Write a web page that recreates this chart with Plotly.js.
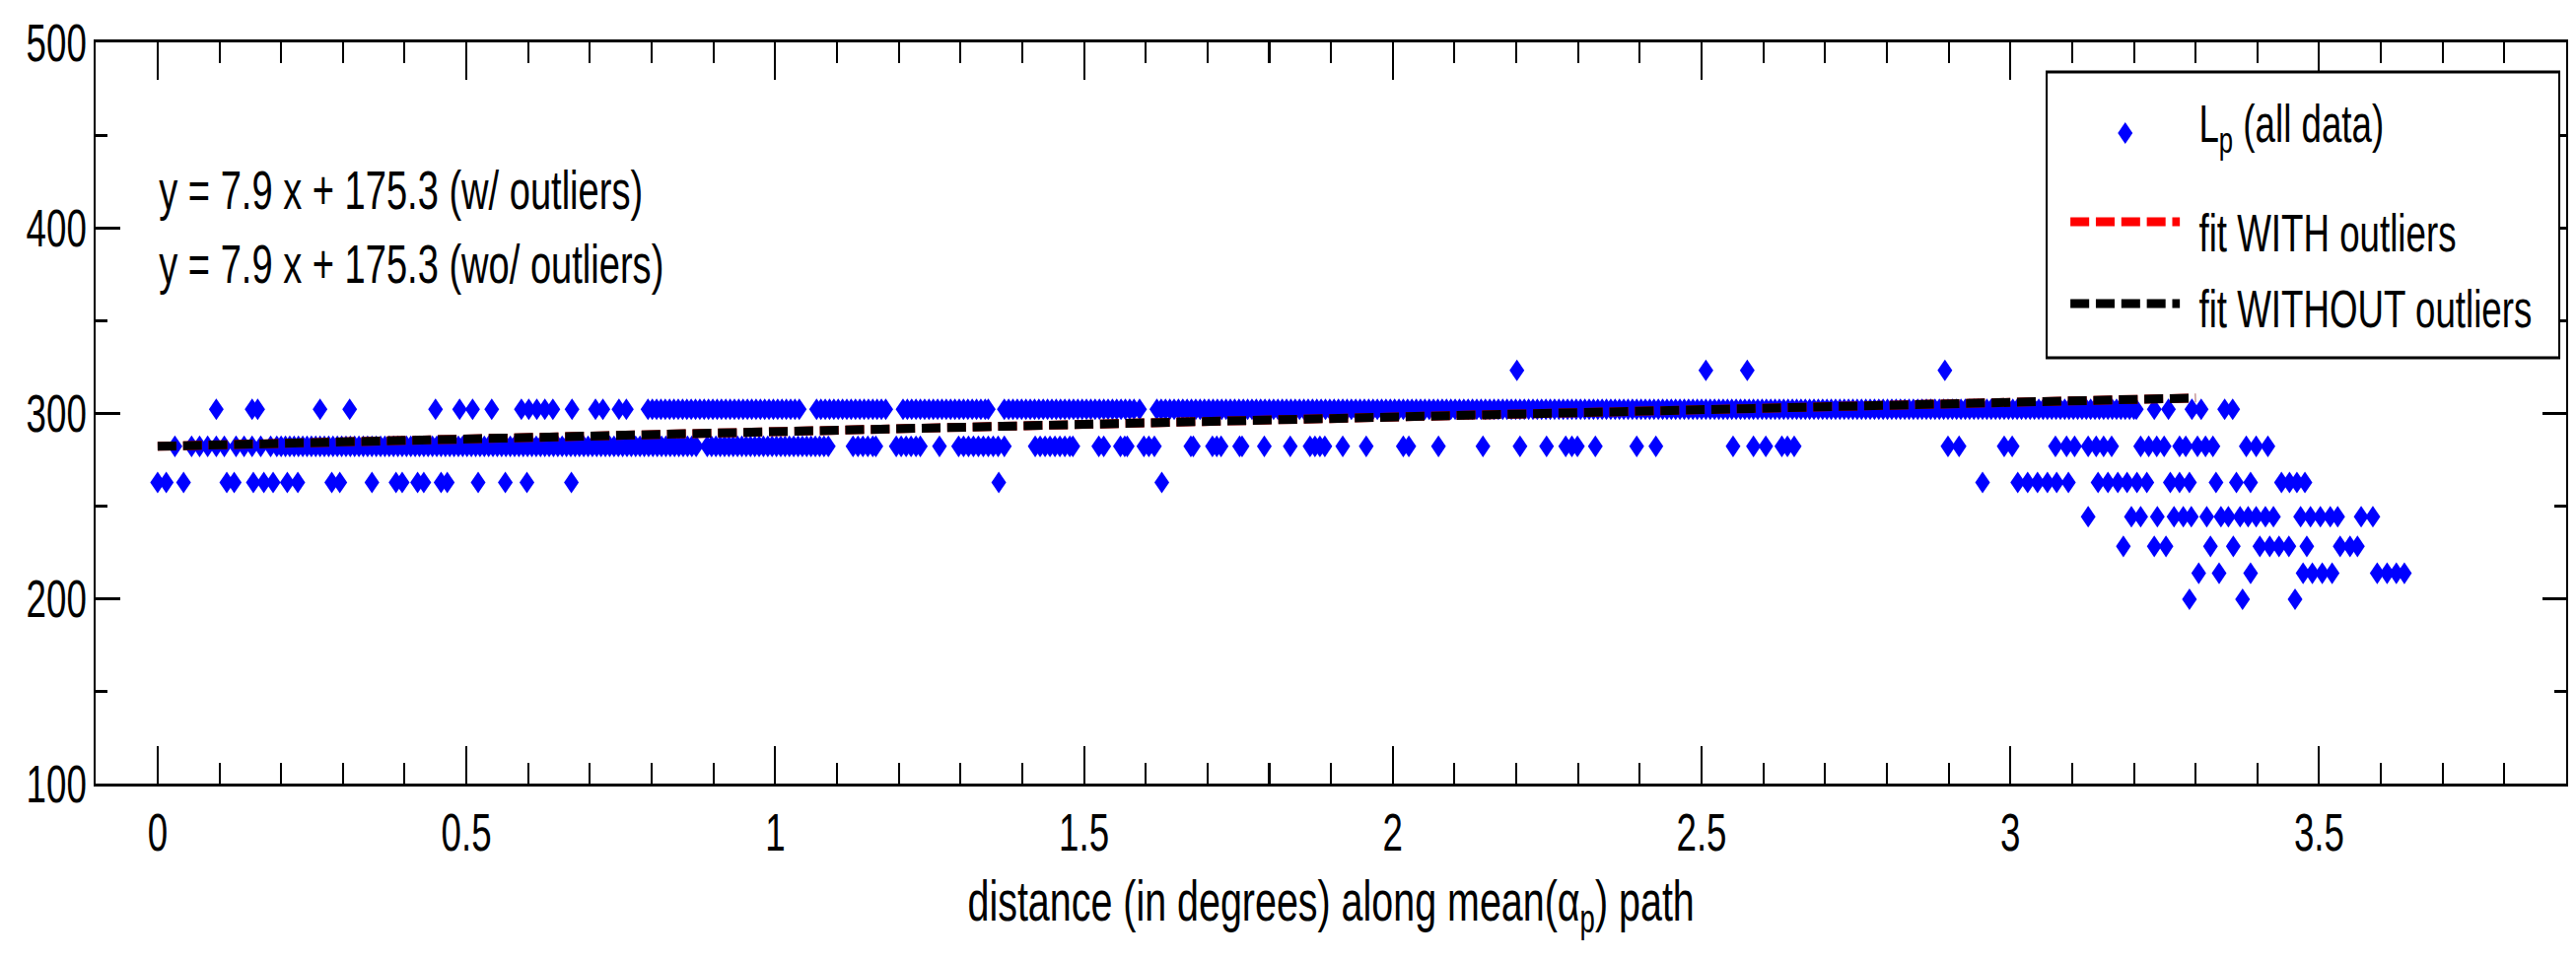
<!DOCTYPE html>
<html>
<head>
<meta charset="utf-8">
<script src="https://cdn.plot.ly/plotly-3.0.1.min.js"></script>
<style>
  html, body { margin: 0; padding: 0; background: #ffffff; overflow: hidden; }
  #frame { position: relative; width: 2613px; height: 974px; overflow: hidden; background: #ffffff; }
  #chart { position: absolute; left: 0; top: 0; transform-origin: 0 0; }
</style>
</head>
<body>
<div id="frame"><div id="chart"></div></div>
<script>
// ---------------- data ----------------
// L_p values come in discrete levels; x positions listed per level.
const level323 = 323;
const level302 = 302;
const level282 = 282;
const level262 = 262.5;
const level244 = 244;
const level228 = 228;
const level213 = 213.5;
const level200 = 199.5;

const x323 = [2.201, 2.507, 2.574, 2.894];

const x302 = [0.095, 0.153, 0.162, 0.263, 0.311, 0.450, 0.489, 0.510, 0.541, 0.589, 0.601, 0.614, 0.627, 0.640,
  0.671, 0.709, 0.721, 0.747, 0.759,
  0.794, 0.801, 0.808, 0.815, 0.822, 0.829, 0.836, 0.843, 0.850, 0.857, 0.864, 0.871, 0.878, 0.885, 0.892,
  0.899, 0.906, 0.913, 0.920, 0.927, 0.934, 0.941, 0.948, 0.955, 0.962, 0.969, 0.976, 0.983, 0.990, 0.997,
  1.004, 1.011, 1.018, 1.025, 1.032, 1.039,
  1.067, 1.074, 1.081, 1.088, 1.095, 1.102, 1.109, 1.116, 1.123, 1.130, 1.137, 1.144, 1.151, 1.158, 1.165,
  1.172, 1.179,
  1.207, 1.214, 1.221, 1.228, 1.235, 1.242, 1.249, 1.256, 1.263, 1.270, 1.277, 1.284, 1.291, 1.298, 1.305,
  1.312, 1.319, 1.326, 1.333, 1.340, 1.345,
  1.371, 1.378, 1.385, 1.392, 1.399, 1.406, 1.413, 1.420, 1.427, 1.434, 1.441, 1.448, 1.455, 1.462, 1.469,
  1.476, 1.483, 1.490, 1.497, 1.504, 1.511, 1.518, 1.525, 1.532, 1.539, 1.546, 1.553, 1.560, 1.567, 1.574,
  1.581, 1.590,
  1.618, 1.625, 1.632, 1.639, 1.646, 1.653, 1.660, 1.667, 1.674, 1.681, 1.688, 1.695, 1.702, 1.709, 1.716,
  1.723, 1.730, 1.737, 1.744, 1.751, 1.758, 1.765, 1.772, 1.779, 1.786, 1.793, 1.800, 1.807, 1.814, 1.821,
  1.828, 1.835, 1.842, 1.849, 1.856, 1.863, 1.870, 1.877, 1.884, 1.891, 1.898, 1.905, 1.912, 1.919, 1.926,
  1.933, 1.940, 1.947, 1.954, 1.961, 1.968, 1.975, 1.982, 1.989, 1.996, 2.003, 2.010, 2.017, 2.024, 2.031,
  2.038, 2.045, 2.052, 2.059, 2.066, 2.073, 2.080, 2.087, 2.094, 2.101, 2.108, 2.115, 2.122, 2.129, 2.136,
  2.143, 2.150, 2.157, 2.164, 2.171, 2.178, 2.185, 2.192, 2.199, 2.206, 2.213, 2.220, 2.227, 2.234, 2.241,
  2.248, 2.255, 2.262, 2.269, 2.276, 2.283, 2.290, 2.297, 2.304, 2.311, 2.318, 2.325, 2.332, 2.339, 2.346,
  2.353, 2.360, 2.367, 2.374, 2.381, 2.388, 2.395, 2.402, 2.409, 2.416, 2.423, 2.430, 2.437, 2.444, 2.451,
  2.458, 2.465, 2.472, 2.479, 2.486, 2.493, 2.500, 2.507, 2.514, 2.521, 2.528, 2.535, 2.542, 2.549, 2.556,
  2.563, 2.570, 2.577, 2.584, 2.591, 2.598, 2.605, 2.612, 2.619, 2.626, 2.633, 2.640, 2.647, 2.654, 2.661,
  2.668, 2.675, 2.682, 2.689, 2.696, 2.703, 2.710, 2.717, 2.724, 2.731, 2.738, 2.745, 2.752, 2.759, 2.766,
  2.773, 2.780, 2.787, 2.794, 2.801, 2.808, 2.815, 2.822, 2.829, 2.836, 2.843, 2.850, 2.857, 2.864, 2.871,
  2.878, 2.885, 2.892, 2.899, 2.906, 2.913, 2.920, 2.927, 2.934, 2.941, 2.948, 2.955, 2.962, 2.969, 2.976,
  2.983, 2.990, 2.997, 3.004, 3.011, 3.018, 3.025, 3.032, 3.039, 3.046, 3.053, 3.060, 3.067, 3.074, 3.081,
  3.088, 3.095, 3.102, 3.109, 3.116, 3.123, 3.130, 3.137, 3.144, 3.151, 3.158, 3.165, 3.172, 3.179, 3.186,
  3.193, 3.200, 3.204,
  3.233, 3.256, 3.294, 3.309, 3.347, 3.360];

const x282 = [0.028, 0.055, 0.068, 0.081, 0.095, 0.108, 0.127, 0.140, 0.153, 0.167, 0.183,
  0.193, 0.200, 0.207, 0.214, 0.221, 0.228, 0.235, 0.242, 0.249, 0.256, 0.263, 0.270, 0.277, 0.284, 0.291,
  0.298, 0.305, 0.312, 0.319, 0.326, 0.333, 0.340, 0.347, 0.354, 0.361, 0.368, 0.375, 0.382, 0.389, 0.396,
  0.403, 0.410, 0.417, 0.424, 0.431, 0.438, 0.445, 0.452, 0.459, 0.466, 0.473, 0.480, 0.487, 0.494, 0.501,
  0.508, 0.515, 0.522, 0.529, 0.536, 0.543, 0.550, 0.557, 0.564, 0.571, 0.578, 0.585, 0.592, 0.599, 0.606,
  0.613, 0.620, 0.627, 0.634, 0.641, 0.648, 0.655, 0.662, 0.669, 0.676, 0.683, 0.690, 0.697, 0.704, 0.711,
  0.718, 0.725, 0.732, 0.739, 0.746, 0.753, 0.760, 0.767, 0.774, 0.781, 0.788, 0.795, 0.802, 0.809, 0.816,
  0.823, 0.830, 0.837, 0.844, 0.851, 0.858, 0.865, 0.872,
  0.890, 0.897, 0.904, 0.911, 0.918, 0.925, 0.932, 0.939, 0.946, 0.953, 0.960, 0.967, 0.974, 0.981, 0.988,
  0.995, 1.002, 1.009, 1.016, 1.023, 1.030, 1.037, 1.044, 1.051, 1.058, 1.065, 1.072, 1.079, 1.086,
  1.126, 1.134, 1.142, 1.150, 1.158, 1.163, 1.196, 1.204, 1.212, 1.220, 1.228, 1.235, 1.266,
  1.297, 1.305, 1.313, 1.321, 1.329, 1.337, 1.345, 1.353, 1.361, 1.371,
  1.421, 1.429, 1.437, 1.445, 1.453, 1.461, 1.469, 1.477, 1.482,
  1.524, 1.532, 1.559, 1.566, 1.570, 1.597, 1.605, 1.614, 1.673, 1.677, 1.708, 1.715, 1.722, 1.752, 1.756,
  1.792, 1.834, 1.866, 1.874, 1.882, 1.890,
  1.919, 1.957, 2.017, 2.026, 2.074, 2.146, 2.206, 2.249, 2.280, 2.290, 2.299, 2.328,
  2.395, 2.426, 2.551, 2.584, 2.604, 2.630, 2.639, 2.650,
  2.899, 2.917, 2.990, 3.003, 3.073, 3.091, 3.104, 3.126, 3.139, 3.151, 3.164, 3.211, 3.224, 3.237, 3.249,
  3.274, 3.284, 3.303, 3.316, 3.328, 3.382, 3.398, 3.417];

const x262 = [0.000, 0.014, 0.042, 0.112, 0.124, 0.155, 0.172, 0.187, 0.210, 0.227, 0.282, 0.295, 0.347, 0.386,
  0.396, 0.421, 0.431, 0.459, 0.469, 0.519, 0.563, 0.598, 0.670, 1.362, 1.626,
  2.955, 3.012, 3.028, 3.044, 3.060, 3.075, 3.094, 3.142, 3.158, 3.174, 3.189, 3.205, 3.221, 3.259, 3.274,
  3.290, 3.333, 3.366, 3.389, 3.439, 3.452, 3.464, 3.477];

const x244 = [3.126, 3.196, 3.211, 3.238, 3.265, 3.280, 3.293, 3.318, 3.341, 3.353, 3.372, 3.385, 3.398, 3.413,
  3.426, 3.470, 3.486, 3.502, 3.518, 3.530, 3.568, 3.587];

const x228 = [3.183, 3.233, 3.252, 3.324, 3.361, 3.404, 3.420, 3.435, 3.451, 3.480, 3.534, 3.550, 3.562];

const x213 = [3.305, 3.338, 3.389, 3.474, 3.489, 3.505, 3.521, 3.594, 3.610, 3.625, 3.638];

const x200 = [3.290, 3.376, 3.461];

// fitted lines as drawn in the figure
const fitX = [0, 3.3];
const fitWithY = [282, 308.1];
const fitWithoutY = [282, 308.1];

// texts
const eqWithText = 'y = 7.9 x + 175.3 (w/ outliers)';
const eqWithoutText = 'y = 7.9 x + 175.3 (wo/ outliers)';
const xTitleText = 'distance (in degrees) along mean(\u03b1<sub>p</sub>) path';
const legendLabels = ['L<sub>p</sub> (all data)', 'fit WITH outliers', 'fit WITHOUT outliers'];

// ---------------- assemble ----------------
const groups = [[x323, level323], [x302, level302], [x282, level282], [x262, level262],
                [x244, level244], [x228, level228], [x213, level213], [x200, level200]];
const allX = [], allY = [];
groups.forEach(([xs, lv]) => xs.forEach(v => { allX.push(v); allY.push(lv); }));

// the original figure is stretched vertically; emulate by drawing wider and squeezing horizontally
const OUT_W = 2613, OUT_H = 974, SQUEEZE = 0.68;
const W = Math.round(OUT_W / SQUEEZE);
const chartDiv = document.getElementById('chart');
chartDiv.style.width = W + 'px';
chartDiv.style.height = OUT_H + 'px';
chartDiv.style.transform = 'scaleX(' + SQUEEZE + ')';

const FONT = 'Liberation Sans, Arial, Helvetica, sans-serif';
const BLUE = '#0000ff';
const DASH = '28px,10px';
const MS = 17;
const LW = 9;

const traces = [
  { type: 'scatter', mode: 'markers', x: allX, y: allY, name: 'L_p (all data)',
    marker: { symbol: 'diamond', size: MS, color: BLUE, line: { width: 0 } }, cliponaxis: false },
  { type: 'scatter', mode: 'lines', x: fitX, y: fitWithY, name: 'fit WITH outliers',
    line: { color: '#ff0000', width: LW, dash: DASH } },
  { type: 'scatter', mode: 'lines', x: fitX, y: fitWithoutY, name: 'fit WITHOUT outliers',
    line: { color: '#000000', width: LW, dash: DASH } }
];

// plot-area geometry (pre-squeeze pixels)
const M = { l: 143, r: 15, t: 43, b: 179 };
const plotWpx = W - M.l - M.r, plotHpx = OUT_H - M.t - M.b;

// manual legend box (paper coordinates)
const legBox = { x0: 0.7897, x1: 0.9972, y0: 0.5745, y1: 0.9601 };
const legSampleX = [0.7993, 0.8436];
const legTextX = 0.8508;
const legMarkerPos = [0.8215, 0.8777];
const legLineY = [0.758, 0.6476];
const legTextY = [0.886, 0.744, 0.6416];

const hw = (1.3 * MS / 2) / plotWpx, hh = (1.3 * MS / 2) / plotHpx;
const [mx, my] = legMarkerPos;

const shapes = [
  { type: 'rect', xref: 'paper', yref: 'paper', x0: legBox.x0, x1: legBox.x1, y0: legBox.y0, y1: legBox.y1,
    line: { color: '#000', width: 3 }, fillcolor: '#ffffff', layer: 'above' },
  { type: 'path', xref: 'paper', yref: 'paper', layer: 'above',
    path: `M${mx - hw},${my} L${mx},${my + hh} L${mx + hw},${my} L${mx},${my - hh} Z`,
    fillcolor: BLUE, line: { width: 0 } },
  { type: 'line', xref: 'paper', yref: 'paper', x0: legSampleX[0], x1: legSampleX[1], y0: legLineY[0], y1: legLineY[0],
    line: { color: '#ff0000', width: LW, dash: DASH }, layer: 'above' },
  { type: 'line', xref: 'paper', yref: 'paper', x0: legSampleX[0], x1: legSampleX[1], y0: legLineY[1], y1: legLineY[1],
    line: { color: '#000000', width: LW, dash: DASH }, layer: 'above' }
];

const annotations = [
  { xref: 'x', yref: 'paper', x: 0, y: 0.801, xanchor: 'left', yanchor: 'middle', showarrow: false,
    text: eqWithText, font: { size: 56, color: '#000' } },
  { xref: 'x', yref: 'paper', x: 0, y: 0.7015, xanchor: 'left', yanchor: 'middle', showarrow: false,
    text: eqWithoutText, font: { size: 56, color: '#000' } }
];
legendLabels.forEach((t, i) => annotations.push({
  xref: 'paper', yref: 'paper', x: legTextX, y: legTextY[i], xanchor: 'left', yanchor: 'middle',
  showarrow: false, text: t, font: { size: 54, color: '#000' }
}));

const axisCommon = {
  ticks: 'inside', tickwidth: 3, tickcolor: '#000', showline: true, linewidth: 3, linecolor: '#000',
  mirror: 'allticks', showgrid: false, zeroline: false, automargin: false,
  tickfont: { family: FONT, size: 54, color: '#000' }
};

const layout = {
  width: W, height: OUT_H,
  margin: { l: M.l, r: M.r, t: M.t, b: M.b, pad: 0 },
  paper_bgcolor: '#ffffff', plot_bgcolor: 'rgba(0,0,0,0)',
  font: { family: FONT, size: 54, color: '#000' },
  showlegend: false,
  xaxis: Object.assign({}, axisCommon, {
    range: [-0.1, 3.9], tick0: 0, dtick: 0.5, ticklen: 38,
    minor: { dtick: 0.1, ticks: 'inside', ticklen: 21, tickwidth: 3, tickcolor: '#000', showgrid: false },
    title: { text: xTitleText, font: { family: FONT, size: 58, color: '#000' }, standoff: 21 }
  }),
  yaxis: Object.assign({}, axisCommon, {
    range: [100, 500], tick0: 100, dtick: 100, ticklen: 36,
    minor: { dtick: 50, ticks: 'inside', ticklen: 17, tickwidth: 3, tickcolor: '#000', showgrid: false }
  }),
  shapes: shapes,
  annotations: annotations
};

Plotly.newPlot(chartDiv, traces, layout, { displayModeBar: false, staticPlot: true, responsive: false });
</script>
</body>
</html>
